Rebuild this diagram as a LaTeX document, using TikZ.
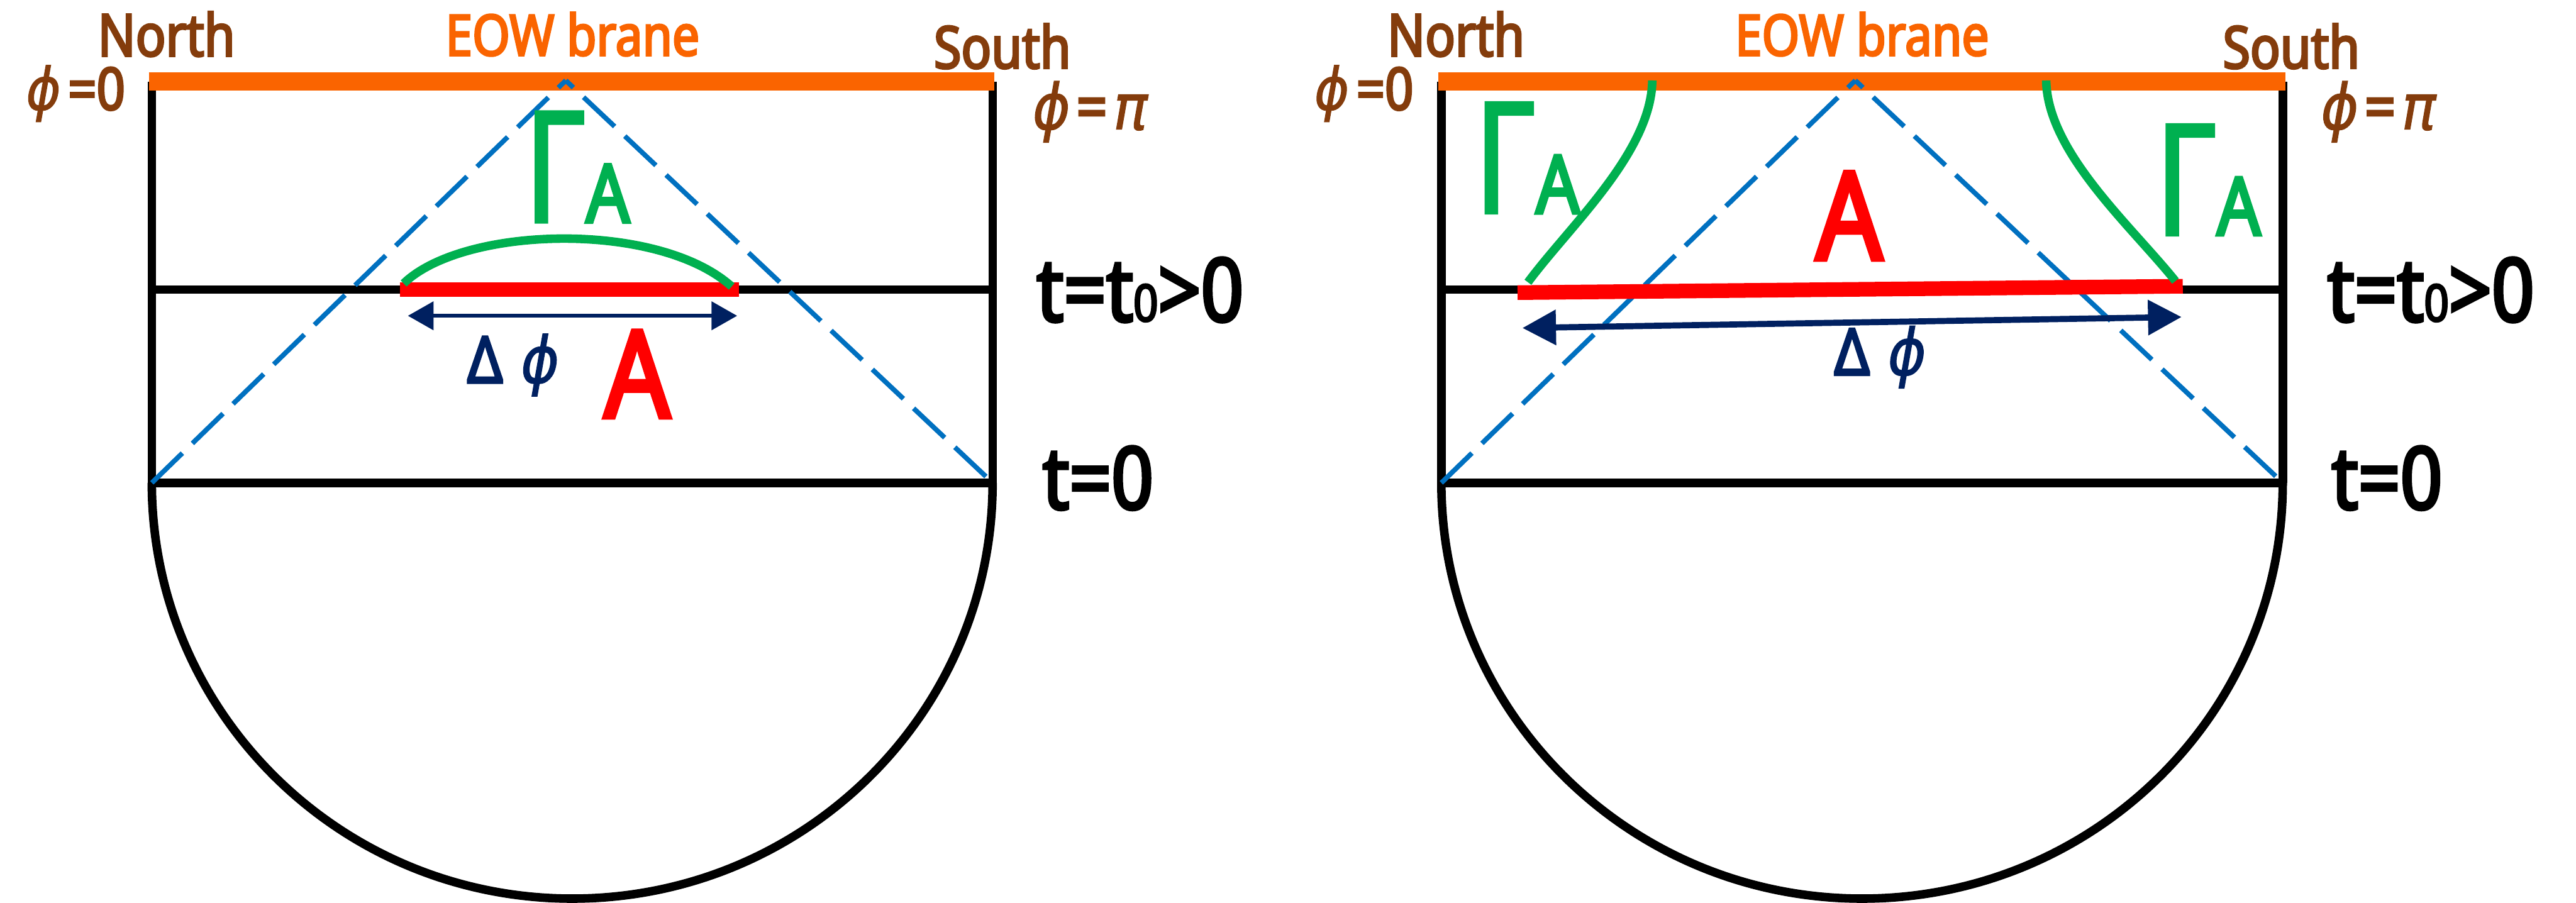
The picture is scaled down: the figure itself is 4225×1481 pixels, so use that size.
\documentclass[tikz,border=0pt]{standalone}
\usepackage{fontspec}
\setmainfont{Noto Sans}[FakeStretch=0.85]
\newfontfamily\bsans{Noto Sans}[FakeStretch=0.85, FakeBold=3.5]
\newfontfamily\msans{Noto Sans}[FakeStretch=0.8, FakeBold=1.5]
\newfontfamily\grk{DejaVu Sans}[FakeStretch=0.9, FakeBold=1.2]
\usetikzlibrary{arrows.meta}
\definecolor{brn}{HTML}{843C0C}
\definecolor{org}{HTML}{FA6400}
\definecolor{grn}{HTML}{00B050}
\definecolor{blu}{HTML}{0070C0}
\definecolor{nvy}{HTML}{002060}
\newcommand{\fs}[1]{\fontsize{#1}{#1}\selectfont}
\newcommand{\ph}{{\grk\itshape ϕ}}
\newcommand{\ppi}{{\grk\itshape π}}
\newcommand{\gam}{{\msans\fs{255}Γ}{\bsans\fs{133}A}}
\tikzset{
  frameline/.style={line width=14pt, black},
  brane/.style={line width=30pt, org},
  cone/.style={line width=8pt, blu, dash pattern=on 70pt off 23pt, dash phase=53pt},
  region/.style={line width=24pt, red},
  rt/.style={line width=14pt, grn},
  lbl/.style={inner sep=0pt, anchor=base},
  brnlbl/.style={lbl, text=brn, font=\fs{96}\bsans},
  tlbl/.style={lbl, text=black, font=\fs{144}\bsans},
  eowlbl/.style={lbl, text=org, font=\fs{93}\bsans},
  gamlbl/.style={lbl, text=grn},
}
\begin{document}
\begin{tikzpicture}[x=1pt,y=1pt]
\useasboundingbox (0,0) rectangle (4225,-1481);
% ================= left panel =================
\coordinate (LtopL) at (249,-134);
\coordinate (LtopR) at (1628,-134);
\coordinate (LmidL) at (249,-475);
\coordinate (LmidR) at (1628,-475);
\coordinate (LbotL) at (249,-792);
\coordinate (LbotR) at (1628,-792);
\coordinate (LbraneL) at (244,-134);
\coordinate (LbraneR) at (1631,-134);
\coordinate (Lapex) at (928,-132);
\draw[frameline] (LtopL) -- (LbotL);
\draw[frameline] (LtopR) -- (LbotR);
\draw[frameline] (LmidL) -- (LmidR);
\draw[frameline] (LbotL) -- (LbotR);
\draw[frameline] (LbotL) arc[start angle=180, end angle=360, x radius=689.5, y radius=682];
\draw[brane] (LbraneL) -- (LbraneR);
\draw[cone] (Lapex) -- (LbotL);
\draw[cone] (Lapex) -- (LbotR);
\coordinate (LAa) at (656,-475);
\coordinate (LAb) at (1212,-475);
\draw[region] (LAa) -- (LAb);
\coordinate (LGa) at (662,-465);
\coordinate (LGb) at (1200,-470);
\draw[rt] (LGa) .. controls (760,-370) and (1080,-362) .. (LGb);
\coordinate (LDa) at (669,-518);
\coordinate (LDb) at (1209,-518);
\draw[line width=6pt, nvy, {Triangle[length=42pt,width=46pt]}-{Triangle[length=42pt,width=46pt]}] (LDa) -- (LDb);
\node[brnlbl] (Lnorth) at (273,-92) {North};
\node[eowlbl] (Leow) at (939,-91) {EOW brane};
\node[brnlbl] (Lsouth) at (1644,-112) {South};
\node[brnlbl] (Lphi0) at (124,-180) {\ph\kern12pt=0};
\node[brnlbl, font=\fs{104}\bsans] (Lphipi) at (1788,-212) {\ph\kern10pt=\kern10pt\ppi};
\node[tlbl] (Lt0) at (1870,-527) {t=t{\fs{84}0}>0};
\node[tlbl, font=\fs{142}\bsans] (Ltz) at (1801,-835) {t=0};
\node[gamlbl] (LGam) at (946,-365) {\gam};
\node[lbl, text=red, font=\fs{199}\bsans] (LA) at (1045,-685) {A};
\node[lbl, text=nvy, font=\fs{106}\bsans] (Ldphi) at (842,-628) {Δ\kern30pt\ph};
% ================= right panel =================
\coordinate (RtopL) at (2364,-134);
\coordinate (RtopR) at (3744,-134);
\coordinate (RmidL) at (2364,-475);
\coordinate (RmidR) at (3744,-475);
\coordinate (RbotL) at (2364,-792);
\coordinate (RbotR) at (3744,-792);
\coordinate (RbraneL) at (2359,-134);
\coordinate (RbraneR) at (3748,-134);
\coordinate (Rapex) at (3043,-132);
\draw[frameline] (RtopL) -- (RbotL);
\draw[frameline] (RtopR) -- (RbotR);
\draw[frameline] (RmidL) -- (RmidR);
\draw[frameline] (RbotL) -- (RbotR);
\draw[frameline] (RbotL) arc[start angle=180, end angle=360, x radius=690, y radius=682];
\draw[brane] (RbraneL) -- (RbraneR);
\draw[cone] (Rapex) -- (RbotL);
\draw[cone] (Rapex) -- (RbotR);
\coordinate (RAa) at (2489,-480);
\coordinate (RAb) at (3580,-469.5);
\draw[region] (RAa) -- (RAb);
\coordinate (RG1a) at (2710,-132);
\coordinate (RG1b) at (2506,-463);
\draw[rt] (RG1a) .. controls (2708,-250) and (2575,-370) .. (RG1b);
\coordinate (RG2a) at (3356,-132);
\coordinate (RG2b) at (3568,-461);
\draw[rt] (RG2a) .. controls (3358,-250) and (3495,-370) .. (RG2b);
\coordinate (RDa) at (2497,-538);
\coordinate (RDb) at (3578,-520);
\draw[line width=10pt, nvy, {Triangle[length=55pt,width=56pt]}-{Triangle[length=55pt,width=56pt]}] (RDa) -- (RDb);
\node[brnlbl] (Rnorth) at (2388,-92) {North};
\node[eowlbl] (Reow) at (3054,-91) {EOW brane};
\node[brnlbl] (Rsouth) at (3758,-112) {South};
\node[brnlbl] (Rphi0) at (2237,-180) {\ph\kern12pt=0};
\node[brnlbl, font=\fs{104}\bsans] (Rphipi) at (3901,-212) {\ph\kern10pt=\kern10pt\ppi};
\node[tlbl] (Rt0) at (3987,-527) {t=t{\fs{84}0}>0};
\node[tlbl, font=\fs{142}\bsans] (Rtz) at (3915,-835) {t=0};
\node[gamlbl] (RGam1) at (2504,-350) {\gam};
\node[gamlbl] (RGam2) at (3621,-386) {\gam};
\node[lbl, text=red, font=\fs{201}\bsans] (RA) at (3033,-426) {A};
\node[lbl, text=nvy, font=\fs{106}\bsans] (Rdphi) at (3084,-615) {Δ\kern30pt\ph};
\end{tikzpicture}
\end{document}
